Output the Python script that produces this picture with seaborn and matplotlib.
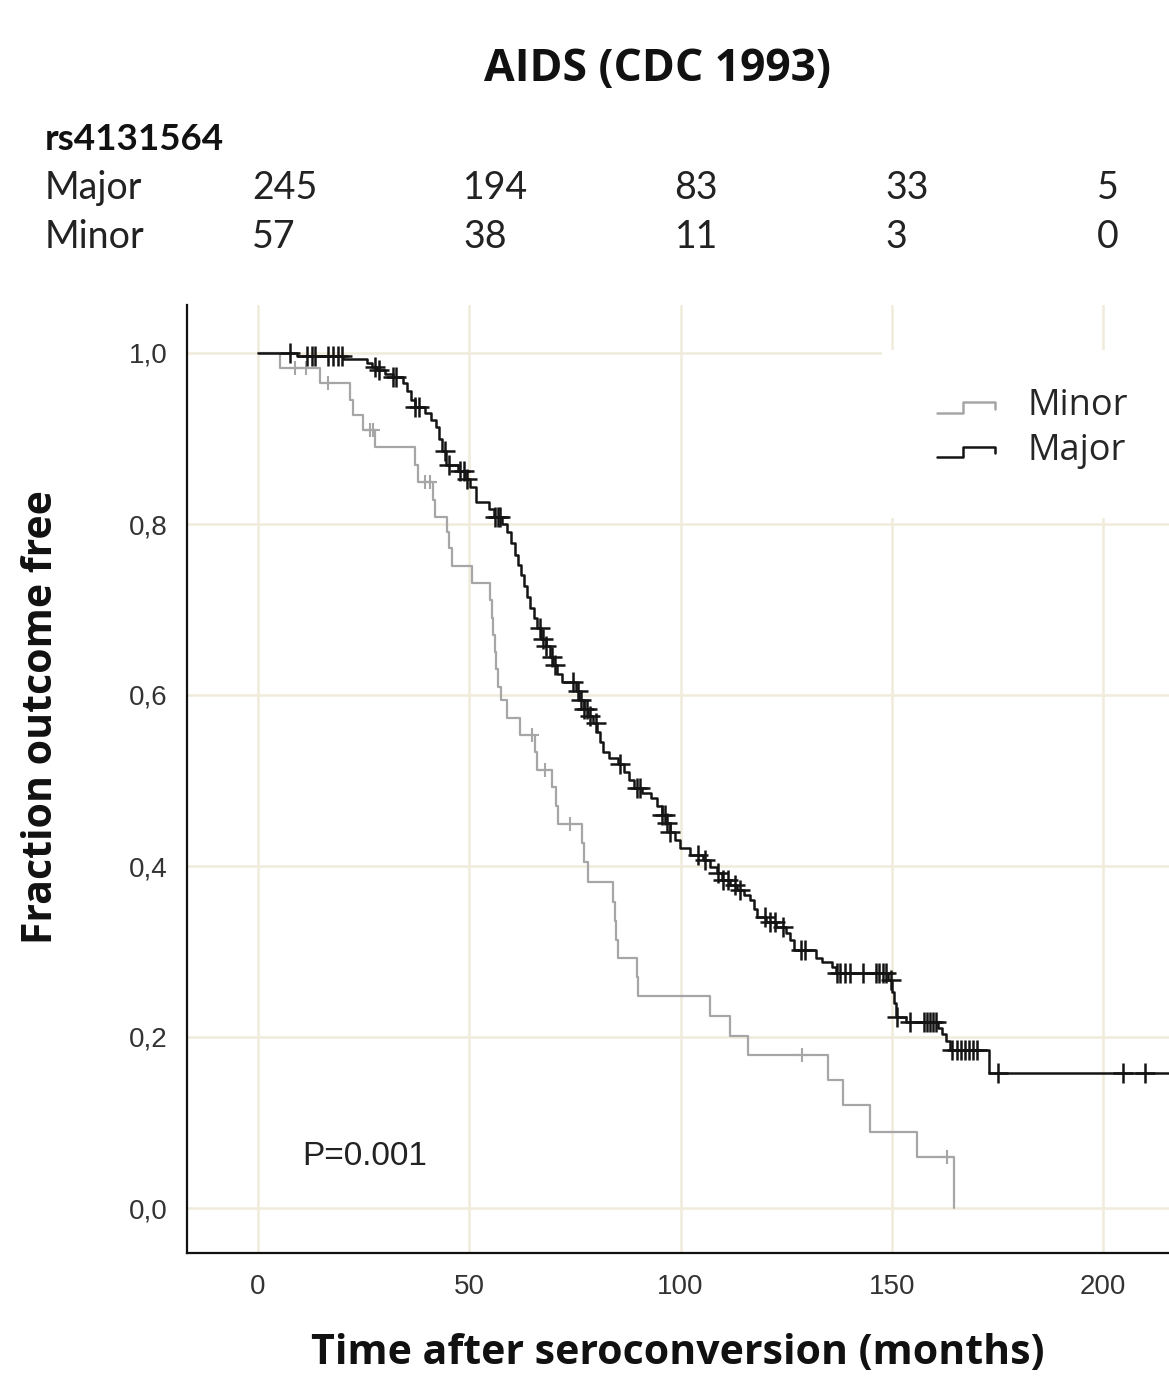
import numpy as np
import pandas as pd
import matplotlib
matplotlib.use("Agg")
import matplotlib.pyplot as plt
import matplotlib.transforms as mtransforms
from matplotlib.legend_handler import HandlerLine2D
from matplotlib.lines import Line2D
from matplotlib.patches import Rectangle
import seaborn as sns

# ---------------- data ----------------
title = "AIDS (CDC 1993)"
snp_name = "rs4131564"
risk_times = [0, 50, 100, 150, 200]
at_risk_major = [245, 194, 83, 33, 5]
at_risk_minor = [57, 38, 11, 3, 0]

major_event_t = [9.2, 20.1, 25.8, 27.0, 28.2, 30.1, 32.0, 34.3, 35.3, 36.2, 37.2, 39.5, 40.9,
                 42.1, 42.8, 43.6, 44.5, 47.3, 49.0, 50.2, 51.6, 54.7, 55.9, 57.8, 58.9, 59.9,
                 60.8, 61.5, 62.2, 63.0, 63.7, 64.4, 65.3, 66.0, 67.0, 68.2, 69.1, 69.8, 70.8,
                 71.9, 75.3, 76.0, 77.2, 78.1, 79.3, 80.2, 80.9, 81.7, 83.1, 85.2, 86.6, 87.8,
                 89.0, 90.9, 93.0, 94.4, 95.6, 96.6, 97.5, 98.7, 99.9, 102.2, 105.3, 107.0,
                 108.6, 109.8, 111.7, 113.4, 115.0, 116.4, 117.4, 118.1, 120.2, 122.6, 125.0,
                 125.9, 126.9, 132.1, 133.5, 135.9, 136.8, 149.1, 150.1, 150.5, 151.0, 153.4,
                 160.9, 161.9, 162.8, 163.8, 173.0]
major_event_s = [0.996, 0.993, 0.988, 0.984, 0.980, 0.976, 0.972, 0.965, 0.955, 0.945, 0.937,
                 0.930, 0.922, 0.913, 0.900, 0.885, 0.869, 0.862, 0.853, 0.843, 0.826, 0.818,
                 0.808, 0.800, 0.791, 0.778, 0.764, 0.752, 0.740, 0.728, 0.715, 0.702, 0.690,
                 0.678, 0.666, 0.657, 0.645, 0.635, 0.625, 0.615, 0.605, 0.594, 0.584, 0.575,
                 0.567, 0.557, 0.545, 0.533, 0.526, 0.519, 0.510, 0.501, 0.491, 0.485, 0.479,
                 0.470, 0.460, 0.450, 0.440, 0.430, 0.421, 0.413, 0.407, 0.399, 0.392, 0.384,
                 0.378, 0.372, 0.366, 0.360, 0.350, 0.340, 0.334, 0.329, 0.322, 0.313, 0.302,
                 0.292, 0.288, 0.282, 0.275, 0.267, 0.253, 0.240, 0.223, 0.218, 0.211, 0.204,
                 0.195, 0.185, 0.158]
major_last_followup = 216.0
major_censor_t = [7.6, 11.6, 12.8, 13.5, 16.6, 17.8, 18.9, 19.9, 27.7, 28.6, 32.0, 32.7, 37.2,
                  38.1, 44.3, 45.2, 47.8, 48.8, 49.5, 56.1, 56.8, 57.3, 66.7, 67.5, 68.2, 69.6,
                  70.3, 74.6, 75.7, 76.4, 77.2, 77.9, 78.6, 80.0, 85.7, 89.7, 90.4, 95.6, 96.3,
                  96.8, 97.5, 104.1, 105.8, 108.9, 110.1, 111.2, 112.9, 114.1, 120.0, 121.2,
                  122.4, 124.3, 128.5, 129.5, 137.0, 137.8, 138.9, 140.1, 143.2, 146.3, 147.0,
                  147.9, 148.6, 149.8, 151.2, 154.3, 157.6, 158.3, 159.1, 159.8, 160.5, 164.3,
                  165.4, 166.4, 167.3, 168.3, 169.2, 170.2, 175.1, 204.7, 209.9]

minor_event_t = [5.2, 14.7, 21.8, 22.5, 24.9, 27.7, 37.2, 37.8, 41.4, 42.0, 44.7, 45.2, 45.8,
                 50.6, 54.9, 55.3, 55.6, 56.0, 56.4, 56.9, 57.4, 58.9, 62.0, 65.6, 66.0, 69.6,
                 70.6, 71.0, 76.7, 77.2, 78.1, 84.0, 84.4, 84.8, 85.2, 89.7, 90.0, 107.0, 111.7,
                 116.0, 134.9, 138.5, 144.9, 156.0, 164.7]
minor_event_s = [0.982, 0.965, 0.945, 0.927, 0.910, 0.890, 0.869, 0.849, 0.828, 0.808, 0.791,
                 0.772, 0.751, 0.731, 0.711, 0.690, 0.670, 0.650, 0.630, 0.609, 0.594, 0.573,
                 0.553, 0.533, 0.512, 0.492, 0.470, 0.449, 0.427, 0.405, 0.381, 0.358, 0.336,
                 0.314, 0.292, 0.270, 0.248, 0.225, 0.201, 0.179, 0.150, 0.120, 0.089, 0.060,
                 0.0]
minor_censor_t = [8.8, 11.4, 16.6, 26.5, 27.2, 39.5, 40.7, 64.9, 67.9, 73.8, 128.8, 163.1]

x_ticks = [0, 50, 100, 150, 200]
y_ticks = [0.0, 0.2, 0.4, 0.6, 0.8, 1.0]
y_tick_labels = ["0,0", "0,2", "0,4", "0,6", "0,8", "1,0"]
x_label = "Time after seroconversion (months)"
y_label = "Fraction outcome free"
p_text = "P=0.001"

# ---------------- helpers ----------------
def step_frame(ev_t, ev_s, end_t, group):
    t = [0.0] + list(ev_t) + ([end_t] if end_t is not None else [])
    s = [1.0] + list(ev_s) + ([ev_s[-1]] if end_t is not None else [])
    return pd.DataFrame({"time": t, "surv": s, "group": group})

def censor_frame(c_t, ev_t, ev_s, group):
    levels = np.array([1.0] + list(ev_s))
    idx = np.searchsorted(np.array(ev_t), np.array(c_t), side="right")
    return pd.DataFrame({"time": c_t, "surv": levels[idx], "group": group})

major_df = step_frame(major_event_t, major_event_s, major_last_followup, "Major")
minor_df = step_frame(minor_event_t, minor_event_s, None, "Minor")
major_c = censor_frame(major_censor_t, major_event_t, major_event_s, "Major")
minor_c = censor_frame(minor_censor_t, minor_event_t, minor_event_s, "Minor")

# ---------------- figure ----------------
sns.set_theme(style="white")
plt.rcParams["font.family"] = ["Liberation Sans", "DejaVu Sans"]

W, H = 1169, 1376
fig = plt.figure(figsize=(W / 100, H / 100), dpi=100)
ax = fig.add_axes([187 / W, 1 - 1253 / H, (W - 187) / W, (1253 - 305) / H])

c_major = "#141414"
c_minor = "#a6a6a6"
grid_c = "#f0ebda"

sns.lineplot(data=minor_df, x="time", y="surv", ax=ax, color=c_minor, lw=1.6,
             drawstyle="steps-post", estimator=None, sort=False, zorder=3, legend=False)
sns.lineplot(data=major_df, x="time", y="surv", ax=ax, color=c_major, lw=1.8,
             drawstyle="steps-post", estimator=None, sort=False, zorder=4, legend=False)
sns.scatterplot(data=minor_c, x="time", y="surv", ax=ax, marker="+", s=110,
                color=c_minor, linewidth=1.5, zorder=3, legend=False)
sns.scatterplot(data=major_c, x="time", y="surv", ax=ax, marker="+", s=190,
                color=c_major, linewidth=1.8, zorder=4, legend=False)

ax.set_xlim((187 - 258) / 4.225, (W - 258) / 4.225)
ax.set_ylim(-(1253 - 1208) / 855, 1 + (353 - 305) / 855)
ax.set_xticks(x_ticks)
ax.set_xticklabels([str(v) for v in x_ticks])
ax.set_yticks(y_ticks)
ax.set_yticklabels(y_tick_labels)
ax.tick_params(axis="both", length=0, labelsize=20, labelcolor="#333333")
ax.tick_params(axis="y", pad=14)
ax.tick_params(axis="x", pad=15)
ax.set_axisbelow(True)
ax.grid(True, color=grid_c, lw=1.8)
for side in ["top", "right"]:
    ax.spines[side].set_visible(False)
for side in ["left", "bottom"]:
    ax.spines[side].set_color("#111111")
    ax.spines[side].set_linewidth(1.6)
ax.set_xlabel("")
ax.set_ylabel("")

# white box behind legend (hides grid there)
ax.add_patch(Rectangle(((882 - 187) / (W - 187), (1253 - 518) / 948),
                       1.0, (518 - 350) / 948, transform=ax.transAxes,
                       facecolor="white", edgecolor="none", zorder=1))

# legend with step-shaped handles
class StepHandler(HandlerLine2D):
    def create_artists(self, legend, orig_handle, xdescent, ydescent, width, height,
                       fontsize, trans):
        x0, y0 = -xdescent, -ydescent
        lo, hi = y0 + 0.1 * height, y0 + 0.5 * height
        xs = [x0, x0 + 0.45 * width, x0 + 0.45 * width, x0 + width, x0 + width]
        ys = [lo, lo, hi, hi, lo + 0.15 * height]
        ln = Line2D(xs, ys, color=orig_handle.get_color(), lw=orig_handle.get_linewidth())
        ln.set_transform(trans)
        return [ln]

h_minor = Line2D([], [], color=c_minor, lw=1.8)
h_major = Line2D([], [], color=c_major, lw=1.8)
ax.legend([h_minor, h_major], ["Minor", "Major"],
          handler_map={Line2D: StepHandler()},
          loc="upper left", bbox_to_anchor=(919 / W, 1 - 370 / H),
          bbox_transform=fig.transFigure, frameon=False, borderpad=0,
          handlelength=1.6, handletextpad=0.9, labelspacing=0.24,
          prop={"family": "Open Sans", "size": 26})

# p-value
ax.text(10.4, 0.06, p_text, fontsize=24, family="Liberation Sans", color="#222222",
        ha="left", va="center", zorder=5)

# axis labels
fig.text(678 / W, 1 - 1353 / H, x_label, ha="center", va="center",
         fontsize=29.5, fontweight="bold", family="Open Sans", color="#111111")
fig.text(42 / W, 1 - 717 / H, y_label, ha="center", va="center", rotation=90,
         fontsize=29.5, fontweight="bold", family="Open Sans", color="#111111")

# title
fig.text(657 / W, 1 - 70 / H, title, ha="center", va="center",
         fontsize=32, fontweight="bold", family="Open Sans", color="#111111")

# number-at-risk table
blend = mtransforms.blended_transform_factory(ax.transData, fig.transFigure)
fig.text(45 / W, 1 - 140 / H, snp_name, ha="left", va="center",
         fontsize=26.5, fontweight="bold", family="Lato", color="#111111")
for name, counts, ypix in [("Major", at_risk_major, 188), ("Minor", at_risk_minor, 237)]:
    fig.text(45 / W, 1 - ypix / H, name, ha="left", va="center",
             fontsize=27, family="Lato", color="#222222")
    for t, n in zip(risk_times, counts):
        ax.text(t - 1.4, 1 - ypix / H, str(n), transform=blend, ha="left", va="center",
                fontsize=27, family="Lato", color="#222222", clip_on=False)

fig.savefig("out.png", dpi=100, facecolor="white")
